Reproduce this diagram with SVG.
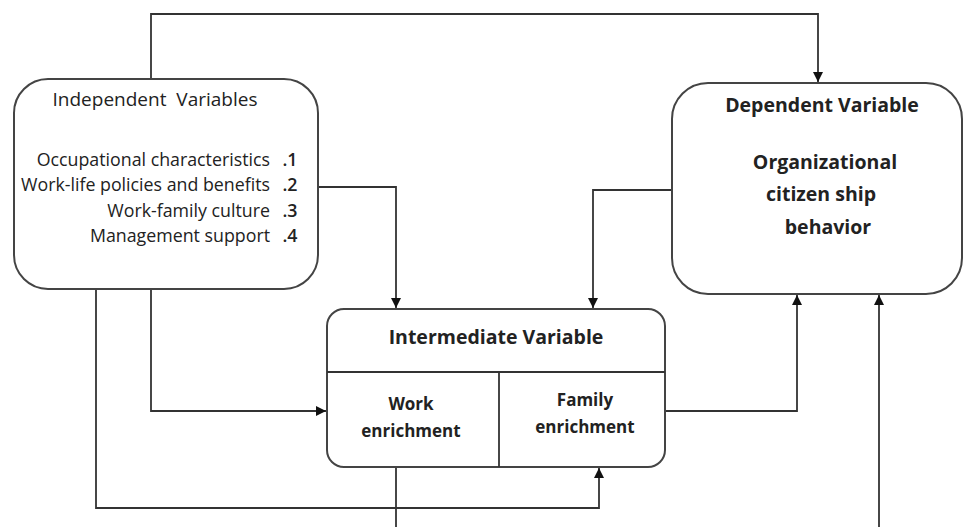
<svg xmlns="http://www.w3.org/2000/svg" width="964" height="527" viewBox="0 0 964 527">
<defs>
<marker id="arr" viewBox="0 0 10 10" refX="10" refY="5" markerWidth="10" markerHeight="10" markerUnits="userSpaceOnUse" orient="auto">
<path d="M0,0 L10,5 L0,10 z" fill="#111"/>
</marker>
<style>
.box{fill:#fff;stroke:#444;stroke-width:2}
.ln{fill:none;stroke:#333;stroke-width:1.8}
.t{font-family:"Open Sans",Lato,"Liberation Sans",sans-serif;fill:#222}
.b{font-weight:bold;font-size:19.5px;text-anchor:middle}
.s{font-size:17px}
.r{font-size:17.8px}
</style>
</defs>
<rect width="964" height="527" fill="#fff"/>
<g id="connectors">
<polyline class="ln" points="151,79 151,14 818,14 818,82" marker-end="url(#arr)"/>
<polyline class="ln" points="318,187 396,187 396,308" marker-end="url(#arr)"/>
<polyline class="ln" points="672,190 593,190 593,308" marker-end="url(#arr)"/>
<polyline class="ln" points="151,289 151,411 326,411" marker-end="url(#arr)"/>
<polyline class="ln" points="96,289 96,508 599,508 599,468" marker-end="url(#arr)"/>
<polyline class="ln" points="396,467 396,527"/>
<polyline class="ln" points="665,411 797,411 797,295" marker-end="url(#arr)"/>
<polyline class="ln" points="879,527 879,295" marker-end="url(#arr)"/>
</g>
<g id="independent">
<rect class="box" x="14" y="79" width="304" height="210" rx="34" ry="34"/>
<text class="t" x="155" y="106" font-size="19" text-anchor="middle" xml:space="preserve">Independent  Variables</text>
<text class="t r" x="270" y="166" text-anchor="end">Occupational characteristics</text>
<text class="t r" x="270" y="191" text-anchor="end">Work-life policies and benefits</text>
<text class="t r" x="270" y="217" text-anchor="end">Work-family culture</text>
<text class="t r" x="270" y="242" text-anchor="end">Management support</text>
<text class="t r" x="290" y="166" text-anchor="middle" font-weight="600">.1</text>
<text class="t r" x="290" y="191" text-anchor="middle" font-weight="600">.2</text>
<text class="t r" x="290" y="217" text-anchor="middle" font-weight="600">.3</text>
<text class="t r" x="290" y="242" text-anchor="middle" font-weight="600">.4</text>
</g>
<g id="dependent">
<rect class="box" x="672" y="83" width="290" height="211" rx="36" ry="36"/>
<text class="t b" x="822" y="112">Dependent Variable</text>
<text class="t b" x="825" y="169">Organizational</text>
<text class="t b" x="821" y="201">citizen ship</text>
<text class="t b" x="828" y="234">behavior</text>
</g>
<g id="intermediate">
<rect class="box" x="327" y="309" width="338" height="158" rx="17" ry="17"/>
<line class="ln" x1="327" y1="372" x2="665" y2="372"/>
<line class="ln" x1="499" y1="372" x2="499" y2="467"/>
<text class="t b" x="496" y="344">Intermediate Variable</text>
<text class="t b s" x="411" y="410">Work</text>
<text class="t b s" x="411" y="437">enrichment</text>
<text class="t b s" x="585" y="406">Family</text>
<text class="t b s" x="585" y="433">enrichment</text>
</g>
</svg>
